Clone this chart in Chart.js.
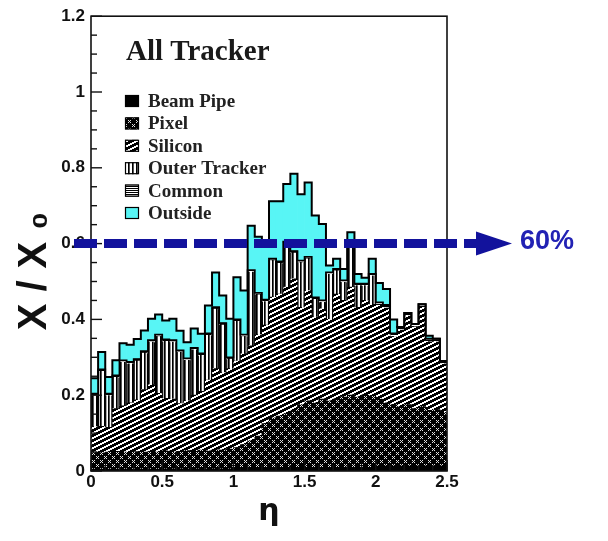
<!DOCTYPE html>
<html><head><meta charset="utf-8">
<script src="https://cdn.jsdelivr.net/npm/chart.js@4.4.1/dist/chart.umd.min.js"></script>
<style>html,body{margin:0;padding:0;background:#fff;}canvas{display:block;}</style>
</head><body>
<canvas id="c" width="608" height="541"></canvas>
<script>
// ---------- data ----------
const etaBins = [0.025,0.075,0.125,0.175,0.225,0.275,0.325,0.375,0.425,0.475,
  0.525,0.575,0.625,0.675,0.725,0.775,0.825,0.875,0.925,0.975,
  1.025,1.075,1.125,1.175,1.225,1.275,1.325,1.375,1.425,1.475,
  1.525,1.575,1.625,1.675,1.725,1.775,1.825,1.875,1.925,1.975,
  2.025,2.075,2.125,2.175,2.225,2.275,2.325,2.375,2.425,2.475];
const beamPipe = [.005,.005,.005,.005,.005,.005,.005,.005,.005,.005,
  .006,.006,.006,.006,.006,.006,.006,.006,.006,.006,
  .008,.008,.008,.008,.008,.008,.008,.008,.008,.008,
  .010,.010,.010,.010,.010,.010,.010,.010,.010,.010,
  .013,.013,.013,.013,.013,.013,.013,.013,.013,.013];
const pixel = [.045,.043,.045,.047,.045,.044,.046,.045,.047,.045,
  .047,.044,.046,.048,.046,.049,.047,.050,.049,.052,
  .054,.062,.072,.084,.117,.132,.137,.142,.152,.167,
  .175,.170,.180,.175,.180,.185,.190,.185,.190,.188,
  .177,.167,.162,.157,.162,.152,.157,.147,.149,.142];
const silicon = [.067,.070,.065,.113,.122,.131,.137,.165,.176,.155,
  .139,.140,.126,.131,.148,.155,.187,.214,.205,.212,
  .228,.240,.250,.268,.260,.319,.322,.335,.347,.257,
  .291,.226,.238,.215,.277,.255,.285,.237,.250,.242,
  .247,.250,.180,.202,.234,.215,.262,.181,.179,.127];
const outerTracker = [.082,.145,.084,.082,.115,.103,.102,.096,.112,.150,
  .150,.150,.135,.107,.120,.095,.118,.157,.125,.025,
  .105,.045,.195,.105,.062,.096,.081,.115,.068,.118,
  .084,.047,.017,.119,.061,.048,.118,.057,.039,.075,
  0,0,0,0,0,0,0,0,0,0];
const common = [.005,.005,.005,.005,.005,.005,.005,.005,.005,.005,
  .005,.005,.005,.005,.005,.005,.005,.005,.005,.005,
  .005,.005,.005,.005,.005,.005,.005,.005,.005,.005,
  .005,.005,.005,.005,.005,.005,.005,.005,.005,.005,
  .008,.008,.008,.008,.008,.008,.008,.008,.008,.008];
const outside = [.041,.046,.044,.040,.045,.045,.053,.055,.057,.053,
  .050,.057,.052,.043,.051,.052,.074,.092,.073,.102,
  .111,.116,.117,.148,.148,.152,.159,.152,.204,.175,
  .196,.216,.202,.018,.027,.030,.022,.026,.016,.040,
  .051,.042,.037,0,0,0,0,.008,0,0];
const seriesNames = ['Beam Pipe','Pixel','Silicon','Outer Tracker','Common','Outside'];
const xTickLabels = ['0','0.5','1','1.5','2','2.5'];
const yTickLabels = ['0','0.2','0.4','0.6','0.8','1','1.2'];
const chartTitle = 'All Tracker';
const xTitle = 'η';
const yTitle = 'X/X₀';
const thresholdValue = 0.6;
const thresholdLabel = '60%';

// ---------- fill patterns ----------
function makePattern(w, h, draw) {
  const c = document.createElement('canvas'); c.width = w; c.height = h;
  const g = c.getContext('2d'); draw(g);
  return g.createPattern(c, 'repeat');
}
const patPixel = makePattern(8, 8, g => {
  g.fillStyle = '#000'; g.fillRect(0,0,8,8);
  g.fillStyle = '#e0e0e0';
  [[0,0],[2,0],[1,1],[0,2],[2,2],[4,4],[6,4],[5,5],[4,6],[6,6]].forEach(p => g.fillRect(p[0],p[1],1,1));
});
const patSilicon = makePattern(10, 5, g => {
  g.fillStyle = '#fff'; g.fillRect(0,0,10,5); g.fillStyle = '#000';
  for (let x = 0; x < 10; x++) for (let y = 0; y < 5; y++)
    if ((y + Math.floor(x/2)) % 5 < 3) g.fillRect(x,y,1,1);
});
const patOuter = makePattern(4, 1, g => {
  g.fillStyle = '#fff'; g.fillRect(0,0,4,1);
  g.fillStyle = '#000'; g.fillRect(0,0,1,1);
  g.fillStyle = '#555'; g.fillRect(1,0,1,1);
});
const patCommon = makePattern(1, 2, g => {
  g.fillStyle = '#fff'; g.fillRect(0,0,1,2);
  g.fillStyle = '#000'; g.fillRect(0,0,1,1);
});
const fills = ['#000', patPixel, patSilicon, patOuter, patCommon, '#58f5f5'];
const seriesValues = [beamPipe, pixel, silicon, outerTracker, common, outside];

const datasets = seriesValues.map((vals, k) => ({
  label: seriesNames[k],
  data: etaBins.map((x, i) => ({x: x, y: vals[i]})),
  backgroundColor: fills[k],
  borderWidth: 0,
  categoryPercentage: 1, barPercentage: 1
}));

// ---------- decorations ----------
const decor = {
  id: 'decor',
  afterDatasetsDraw(chart) {
    const ctx = chart.ctx, ca = chart.chartArea;
    ctx.save();
    ctx.beginPath(); ctx.rect(ca.left, ca.top, ca.right - ca.left, ca.bottom - ca.top); ctx.clip();
    ctx.strokeStyle = '#000';
    const mOT = chart.getDatasetMeta(3);
    ctx.lineWidth = 1.2;
    mOT.data.forEach((el, i) => {
      if (outerTracker[i] <= 0) return;
      const p = el.getProps(['x','y','base','width'], true);
      ctx.beginPath();
      ctx.moveTo(p.x - p.width/2 + 0.5, p.base); ctx.lineTo(p.x - p.width/2 + 0.5, p.y);
      ctx.moveTo(p.x + p.width/2 - 0.5, p.base); ctx.lineTo(p.x + p.width/2 - 0.5, p.y);
      ctx.stroke();
    });
    function stepLine(meta, lw) {
      ctx.beginPath();
      meta.data.forEach((el, i) => {
        const p = el.getProps(['x','y','width'], true);
        const l = p.x - p.width/2, r = p.x + p.width/2;
        if (i === 0) ctx.moveTo(l, p.y); else ctx.lineTo(l, p.y);
        ctx.lineTo(r, p.y);
      });
      ctx.lineWidth = lw; ctx.stroke();
    }
    stepLine(chart.getDatasetMeta(4), 1.8);
    stepLine(chart.getDatasetMeta(5), 2);
    ctx.restore();
  },
  afterDraw(chart) {
    const ctx = chart.ctx, ca = chart.chartArea;
    const ys = chart.scales.y, xs = chart.scales.x;
    ctx.save();
    ctx.strokeStyle = '#111'; ctx.lineWidth = 1.6;
    ctx.strokeRect(ca.left, ca.top, ca.right - ca.left, ca.bottom - ca.top);
    ctx.lineWidth = 1.4;
    for (let v = 0; v <= ys.max + 1e-9; v += 0.05) {
      const y = ys.getPixelForValue(v);
      const major = Math.abs(v / 0.2 - Math.round(v / 0.2)) < 1e-6;
      ctx.beginPath(); ctx.moveTo(ca.left, y); ctx.lineTo(ca.left + (major ? 11 : 6), y); ctx.stroke();
    }
    for (let v = 0; v <= xs.max + 1e-9; v += 0.1) {
      const x = xs.getPixelForValue(v);
      const major = Math.abs(v / 0.5 - Math.round(v / 0.5)) < 1e-6;
      ctx.beginPath(); ctx.moveTo(x, ca.bottom); ctx.lineTo(x, ca.bottom - (major ? 11 : 6)); ctx.stroke();
    }
    // dashed arrow at threshold
    const yT = ys.getPixelForValue(thresholdValue);
    ctx.strokeStyle = '#12129c'; ctx.fillStyle = '#12129c';
    ctx.lineWidth = 9; ctx.setLineDash([23, 7]);
    ctx.beginPath(); ctx.moveTo(ca.left - 17, yT); ctx.lineTo(480, yT); ctx.stroke();
    ctx.setLineDash([]);
    ctx.beginPath(); ctx.moveTo(476, yT - 12); ctx.lineTo(512, yT); ctx.lineTo(476, yT + 12); ctx.closePath(); ctx.fill();
    ctx.fillStyle = '#2222b4';
    ctx.font = 'bold 27px "Liberation Sans", Arial, sans-serif';
    ctx.textBaseline = 'middle'; ctx.textAlign = 'left';
    ctx.fillText(thresholdLabel, 520, yT - 2);
    // title
    ctx.fillStyle = '#1a1a1a';
    ctx.textBaseline = 'alphabetic';
    ctx.font = 'bold 29px "Liberation Serif", "Times New Roman", serif';
    ctx.fillText(chartTitle, 126, 60);
    // legend
    ctx.font = 'bold 19px "Liberation Serif", "Times New Roman", serif';
    chart.data.datasets.forEach((ds, i) => {
      const top = 95 + i * 22.4;
      ctx.fillStyle = ds.backgroundColor;
      ctx.fillRect(125, top, 14, 12);
      ctx.strokeStyle = '#000'; ctx.lineWidth = 1.2;
      ctx.strokeRect(125.5, top + 0.5, 13, 11);
      ctx.fillStyle = '#222';
      ctx.fillText(ds.label, 148, top + 12);
    });
    // y axis title
    ctx.save();
    ctx.translate(46, 265);
    ctx.rotate(-Math.PI / 2);
    ctx.fillStyle = '#111';
    ctx.font = 'bold 40px "Liberation Sans", Arial, sans-serif';
    try { ctx.letterSpacing = '12px'; } catch (e) {}
    ctx.textAlign = 'center'; ctx.textBaseline = 'alphabetic';
    ctx.fillText(yTitle, 0, 0);
    ctx.restore();
    ctx.restore();
  }
};

const tickFont = {family: '"Liberation Sans", Arial, sans-serif', size: 17, weight: 'bold'};
new Chart(document.getElementById('c'), {
  type: 'bar',
  data: {datasets: datasets},
  options: {
    responsive: false, animation: false, devicePixelRatio: 1,
    layout: {padding: {left: 0, right: 161, top: 15, bottom: 0}},
    plugins: {legend: {display: false}, tooltip: {enabled: false}, title: {display: false}},
    scales: {
      x: {
        type: 'linear', stacked: true, min: 0, max: 2.5, offset: false,
        afterFit(s) { s.height = 70; },
        grid: {display: false, drawTicks: false}, border: {display: false},
        ticks: {stepSize: 0.5, padding: 1, font: tickFont, color: '#111', maxRotation: 0, autoSkip: false,
          callback: (v, i) => xTickLabels[i]},
        title: {display: true, text: xTitle, color: '#111',
          font: {family: '"DejaVu Sans", sans-serif', size: 30, weight: 'bold'}, padding: {top: 0, bottom: 11}}
      },
      y: {
        stacked: true, min: 0, max: 1.2,
        afterFit(s) { s.width = 91; },
        grid: {display: false, drawTicks: false}, border: {display: false},
        ticks: {stepSize: 0.2, padding: 6, font: tickFont, color: '#111',
          callback: (v, i) => yTickLabels[i]},
        title: {display: false}
      }
    }
  },
  plugins: [decor]
});
</script>
</body></html>
